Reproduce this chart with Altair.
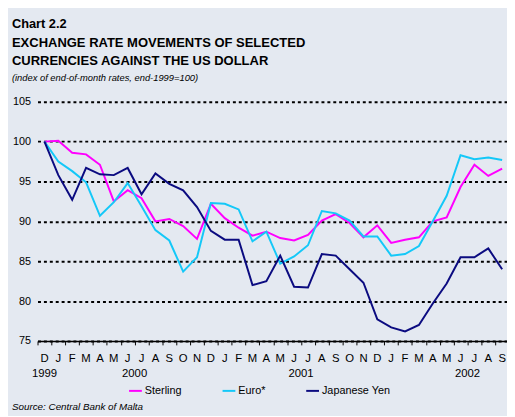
import altair as alt
import pandas as pd

# ---- data ----
months = ["D",
          "J", "F", "M", "A", "M", "J", "J", "A", "S", "O", "N", "D",
          "J", "F", "M", "A", "M", "J", "J", "A", "S", "O", "N", "D",
          "J", "F", "M", "A", "M", "J", "J", "A", "S"]
sterling = [100.0, 100.1, 98.6, 98.4, 97.1, 92.5, 93.9, 92.9, 90.0, 90.3, 89.4, 87.8, 92.2,
            90.4, 89.2, 88.2, 88.7, 87.9, 87.6, 88.3, 90.1, 90.9, 89.8, 88.0, 89.5,
            87.3, 87.7, 88.0, 90.0, 90.5, 94.3, 97.1, 95.7, 96.6]
euro = [100.0, 97.5, 96.3, 94.9, 90.7, 92.4, 94.8, 91.9, 88.9, 87.6, 83.7, 85.5, 92.3,
        92.2, 91.5, 87.5, 88.7, 84.7, 85.6, 87.0, 91.3, 91.0, 90.1, 88.1, 88.1,
        85.7, 85.9, 86.9, 90.0, 93.2, 98.3, 97.8, 98.0, 97.7]
yen = [100.0, 95.8, 92.7, 96.7, 95.9, 95.8, 96.7, 93.4, 96.0, 94.7, 93.9, 91.8, 88.8,
       87.7, 87.7, 82.0, 82.5, 85.7, 81.8, 81.7, 85.9, 85.7, 84.0, 82.3, 77.7,
       76.7, 76.2, 77.0, 79.7, 82.2, 85.5, 85.5, 86.6, 84.0]
series_names = ["Sterling", "Euro*", "Japanese Yen"]
series_colors = ["#FF00FF", "#14C8F8", "#0B0B80"]
years = ["1999", "2000", "2001", "2002"]
year_idx = [0, 6.5, 18.5, 30.5]
y_ticks = [75, 80, 85, 90, 95, 100, 105]

chart_label = "Chart 2.2"
title_lines = ["EXCHANGE RATE MOVEMENTS OF SELECTED", "CURRENCIES AGAINST THE US DOLLAR"]
subtitle = "(index of end-of-month rates, end-1999=100)"
source = "Source: Central Bank of Malta"

FONT = "Liberation Sans"

rows = []
for name, vals in zip(series_names, [sterling, euro, yen]):
    for i, v in enumerate(vals):
        rows.append({"idx": i, "value": v, "series": name})
df = pd.DataFrame(rows)

xscale = alt.Scale(domain=[-0.5, 33.35], nice=False, zero=False)
yscale = alt.Scale(domain=[75, 105], nice=False, zero=False)
xaxis = alt.Axis(values=[i - 0.5 for i in range(34)], labels=False, tickSize=4,
                 tickColor="black", tickWidth=1, domainColor="black", domainWidth=1.5,
                 grid=False, title=None, zindex=1)
x_enc = alt.X("idx:Q", scale=xscale, axis=xaxis)

lines = alt.Chart(df).mark_line(strokeWidth=2).encode(
    x=x_enc,
    y=alt.Y("value:Q", scale=yscale,
            axis=alt.Axis(values=y_ticks, grid=True, gridDash=[3, 3], gridColor="black",
                          gridWidth=2, domain=False, ticks=False, labelFontSize=11,
                          labelFont=FONT, labelPadding=7, labelColor="black", title=None)),
    color=alt.Color("series:N", sort=series_names,
                    scale=alt.Scale(domain=series_names, range=series_colors),
                    legend=alt.Legend(orient="none", legendX=92, legendY=286,
                                      direction="horizontal", title=None,
                                      symbolType="stroke", symbolSize=169,
                                      symbolStrokeWidth=2, labelFontSize=11,
                                      labelFont=FONT, labelColor="black",
                                      labelOffset=2, columnPadding=37)),
)

month_df = pd.DataFrame({"idx": list(range(len(months))), "m": months})
month_text = alt.Chart(month_df).mark_text(fontSize=11.5, font=FONT, color="black",
                                           baseline="middle").encode(
    x=x_enc, y=alt.value(261.5), text="m:N")

year_df = pd.DataFrame({"idx": year_idx, "y": years})
year_text = alt.Chart(year_df).mark_text(fontSize=11.5, font=FONT, color="black",
                                         baseline="middle").encode(
    x=x_enc, y=alt.value(276.5), text="y:N")


def label(text, x, y, size, weight="normal", style="normal"):
    return alt.Chart(pd.DataFrame({"t": [text]})).mark_text(
        align="left", baseline="alphabetic", fontSize=size, font=FONT,
        fontWeight=weight, fontStyle=style, color="black").encode(
        text="t:N", x=alt.value(x), y=alt.value(y))


t0 = label(chart_label, -26, -75, 13, weight="bold")
t1 = label(title_lines[0], -26, -56, 13.2, weight="bold")
t2 = label(title_lines[1], -26, -37, 13.2, weight="bold")
t3 = label(subtitle, -26, -21, 9.5, style="italic")
t4 = label(source, -26, 313, 10, style="italic")

chart = alt.layer(lines, month_text, year_text, t0, t1, t2, t3, t4).properties(
    width=477, height=243,
    autosize=alt.AutoSizeParams(type="none"),
    padding={"left": 30, "top": 92, "right": 0, "bottom": 73},
).configure(background="#E4E9F1").configure_view(stroke=None)

chart.save("out.html", embed_options={"renderer": "svg", "actions": False})
